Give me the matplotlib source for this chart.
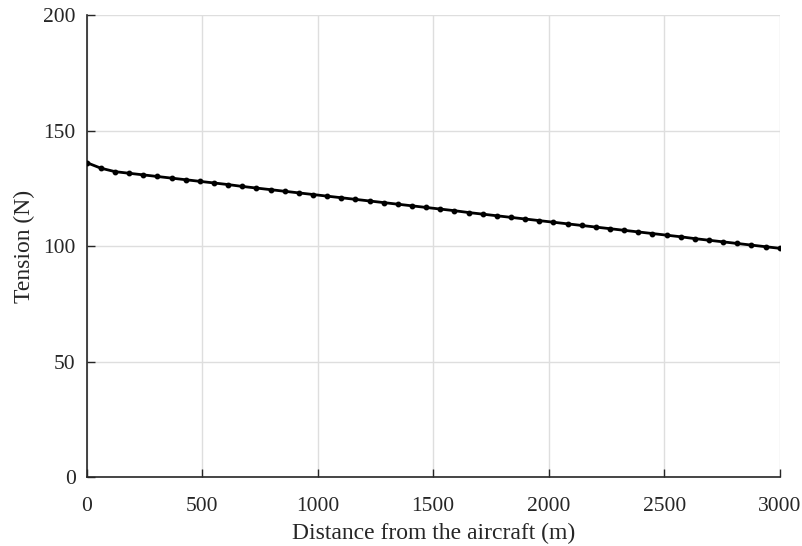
import matplotlib
matplotlib.use("Agg")
import matplotlib.pyplot as plt
import numpy as np

# Tension along the tether, 50 evenly spaced samples from 0 to 3000 m
distance = np.linspace(0, 3000, 50)
tension = [
    136.2, 133.8, 132.3, 131.6, 130.9, 130.2, 129.5, 128.8, 128.1, 127.4,
    126.7, 125.9, 125.2, 124.5, 123.8, 123.1, 122.4, 121.7, 121.0, 120.3,
    119.6, 118.9, 118.2, 117.5, 116.8, 116.1, 115.4, 114.6, 113.9, 113.2,
    112.5, 111.8, 111.1, 110.4, 109.7, 109.0, 108.3, 107.6, 106.9, 106.2,
    105.5, 104.8, 104.1, 103.3, 102.6, 101.9, 101.2, 100.5, 99.8, 99.1,
]
x_ticks = [0, 500, 1000, 1500, 2000, 2500, 3000]
y_ticks = [0, 50, 100, 150, 200]

plt.rcParams["font.family"] = ["Liberation Serif", "DejaVu Serif"]
plt.rcParams["font.size"] = 15.5

fig = plt.figure(figsize=(8.03, 5.46), dpi=100)
ax = fig.add_axes([0.108, 0.126, 0.863, 0.846])

ax.plot(distance, tension, color="black", lw=2, marker="o", ms=3.2, zorder=3)

ax.set_xlim(0, 3000)
ax.set_ylim(0, 200)
ax.set_xticks(x_ticks)
ax.set_yticks(y_ticks)
ax.set_xlabel("Distance from the aircraft (m)", color="#262626", fontsize=17, labelpad=5)
ax.set_ylabel("Tension (N)", color="#262626", fontsize=17, labelpad=6)

ax.grid(True, color="#dedede", lw=1)
ax.set_axisbelow(True)
for side in ["top", "right"]:
    ax.spines[side].set_visible(False)
for side in ["left", "bottom"]:
    ax.spines[side].set_color("#262626")
    ax.spines[side].set_linewidth(1.2)
ax.tick_params(direction="in", length=6, width=1, colors="#262626")
ax.tick_params(axis="x", pad=14)
ax.tick_params(axis="y", pad=8)

fig.savefig("out.png", dpi=100)
